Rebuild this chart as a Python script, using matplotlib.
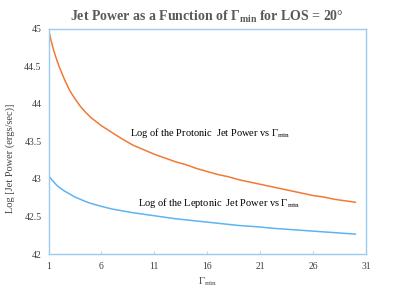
import matplotlib
matplotlib.use("Agg")
import matplotlib.pyplot as plt

plt.rcParams['font.family'] = ['Liberation Serif', 'DejaVu Serif']
plt.rcParams['mathtext.fontset'] = 'custom'
plt.rcParams['mathtext.rm'] = 'Liberation Serif'
plt.rcParams['mathtext.it'] = 'Liberation Serif:italic'
plt.rcParams['mathtext.bf'] = 'Liberation Serif:bold'

gamma_min = [1, 1.25, 1.5, 1.75, 2, 2.5, 3, 3.5, 4, 4.5, 5, 6, 7, 8, 9, 10, 11, 12,
             13, 14, 15, 16, 17, 18, 19, 20, 21, 22, 23, 24, 25, 26, 27, 28, 29, 30]
protonic = [45.00, 44.84, 44.71, 44.60, 44.50, 44.33, 44.18, 44.07, 43.97, 43.89,
            43.82, 43.71, 43.62, 43.53, 43.45, 43.39, 43.33, 43.28, 43.23, 43.19,
            43.14, 43.10, 43.06, 43.03, 42.99, 42.96, 42.93, 42.90, 42.87, 42.84,
            42.81, 42.78, 42.76, 42.73, 42.71, 42.69]
leptonic = [43.05, 43.00, 42.96, 42.92, 42.89, 42.84, 42.80, 42.76, 42.73, 42.70,
            42.675, 42.635, 42.60, 42.575, 42.55, 42.53, 42.51, 42.49, 42.47, 42.455,
            42.44, 42.425, 42.41, 42.395, 42.38, 42.37, 42.36, 42.345, 42.335, 42.325,
            42.315, 42.305, 42.295, 42.285, 42.275, 42.265]
x_ticks = [1, 6, 11, 16, 21, 26, 31]
y_ticks = [42, 42.5, 43, 43.5, 44, 44.5, 45]
y_tick_labels = ['42', '42.5', '43', '43.5', '44', '44.5', '45']

fig = plt.figure(figsize=(3.99, 2.89), dpi=100)
ax = fig.add_axes([0.1216, 0.1211, 0.7954, 0.7786])

ax.plot(gamma_min, protonic, color='#F07A35', lw=1.1)
ax.plot(gamma_min, leptonic, color='#5DB4F2', lw=1.1)

ax.set_xlim(1, 31)
ax.set_ylim(42, 45)
ax.set_xticks(x_ticks)
ax.set_xticklabels([str(t) for t in x_ticks])
ax.set_yticks(y_ticks)
ax.set_yticklabels(y_tick_labels)

for s in ax.spines.values():
    s.set_color('#9CCBF2')
    s.set_linewidth(1.0)

ax.tick_params(axis='x', direction='in', length=2, color='#D0D0D0', labelsize=7,
               labelcolor='#404040', pad=6)
ax.tick_params(axis='y', length=0, labelsize=7, labelcolor='#404040', pad=5)

ax.set_xlabel(r'Γ$_{\mathrm{min}}$', fontsize=7.5, color='#404040', labelpad=3)
ax.set_ylabel('Log [Jet Power (ergs/sec)]', fontsize=7.5, color='#404040')
ax.yaxis.set_label_coords(-0.1055, 0.427)

ax.set_title(r'Jet Power as a Function of Γ$_{\mathbf{min}}$ for LOS = 20°',
             fontsize=10, fontweight='bold', color='#595959', pad=6)

ax.text(8.7, 43.61, r'Log of the Protonic  Jet Power vs Γ$_{\mathrm{min}}$',
        fontsize=7.5, color='black', va='center', ha='left')
ax.text(9.45, 42.68, r'Log of the Leptonic  Jet Power vs Γ$_{\mathrm{min}}$',
        fontsize=7.5, color='black', va='center', ha='left')

fig.savefig('out.png', dpi=100)
